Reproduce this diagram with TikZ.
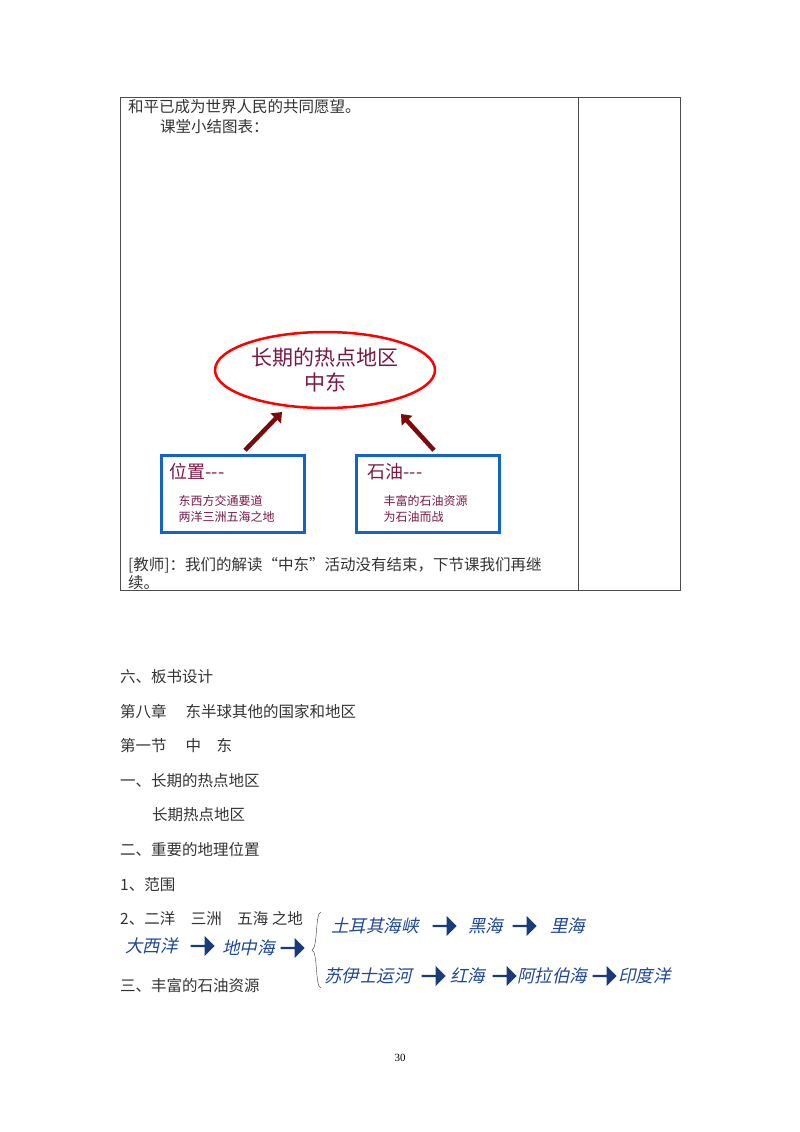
\documentclass[tikz,border=0pt]{standalone}
\usepackage{fontspec}
\setmainfont{Liberation Serif}
\newfontfamily\cjk{Noto Sans CJK SC}
\newfontfamily\cjkit{Noto Sans CJK SC}[FakeSlant=0.22]
\usetikzlibrary{shapes.geometric,shapes.arrows,arrows.meta}
\definecolor{wine}{RGB}{120,25,70}
\definecolor{darkred}{RGB}{125,10,10}
\definecolor{boxblue}{RGB}{20,100,200}
\definecolor{seablue}{RGB}{30,70,150}
\definecolor{navy}{RGB}{25,60,120}
\begin{document}
\begin{tikzpicture}[x=1pt,y=-1pt,
  body/.style={anchor=west, inner sep=0pt, font=\cjk\fontsize{15.5}{18}\selectfont, text=black!80},
  topic/.style={ellipse, draw=red, line width=2.5pt, minimum width=220pt, minimum height=76pt, align=center, text=wine, font=\cjk\fontsize{21}{25}\selectfont},
  card/.style={rectangle, draw=boxblue, line width=2.5pt, minimum width=143pt, minimum height=77pt},
  push/.style={-{Triangle[length=9pt,width=14pt]}, line width=4.5pt, darkred},
  sea/.style={anchor=west, inner sep=0pt, text=seablue, font=\cjkit\fontsize{17.5}{20}\selectfont},
  flow/.style={single arrow, fill=navy, minimum height=24pt, minimum width=20pt, single arrow head extend=1.5pt, inner sep=0pt}
]
  \useasboundingbox (0,0) rectangle (800,1132);
  % table
  \draw[black!70] (120,97) rectangle (680,590);
  \draw[black!70] (578,97) -- (578,590);
  \node[body] (t1) at (128,107) {和平已成为世界人民的共同愿望。};
  \node[body] (t2) at (160,127) {课堂小结图表：};

  % summary chart
  \node[topic] (hot) at (325,370) {长期的热点地区\\中东};
  \node[card] (pos) at (233,494) {};
  \node[card] (oil) at (428,494) {};
  \node[anchor=west, text=wine, font=\cjk\fontsize{18}{20}\selectfont] at (166,472) {位置---};
  \node[anchor=west, align=left, text=wine, font=\cjk\fontsize{12}{16}\selectfont] at (175,509) {东西方交通要道\\两洋三洲五海之地};
  \node[anchor=west, text=wine, font=\cjk\fontsize{18}{20}\selectfont] at (364,472) {石油---};
  \node[anchor=west, align=left, text=wine, font=\cjk\fontsize{12}{16}\selectfont] at (380,509) {丰富的石油资源\\为石油而战};
  \draw[push] (pos.north) ++(12,-4) coordinate (p1) -- (282,412);
  \draw[push] (oil.north) ++(6,-4) coordinate (p2) -- (401,414);

  \node[body] (t3) at (128,565) {[教师]：我们的解读“中东”活动没有结束，下节课我们再继};
  \node[body] (t4) at (128,583) {续。};

  % board design
  \node[body] (s6) at (120,677) {六、板书设计};
  \node[body] (ch) at (120,712) {第八章\quad\ 东半球其他的国家和地区};
  \node[body] (se) at (120,746) {第一节\quad\ 中\quad 东};
  \node[body] (l1) at (120,781) {一、长期的热点地区};
  \node[body] (l2) at (152,815) {长期热点地区};
  \node[body] (l3) at (120,850) {二、重要的地理位置};
  \node[body] (l4) at (120,885) {1、范围};
  \node[body] (l5) at (120,919) {2、二洋\quad 三洲\quad 五海\ 之地};
  \node[body] (l6) at (120,986) {三、丰富的石油资源};

  % route
  \node[sea] (atl) at (125,946) {大西洋};
  \node[flow] (a1) at (202,946) {};
  \node[sea] (med) at (222,948) {地中海};
  \node[flow] (a2) at (292,948) {};
  \draw[black!80] (321,912) .. controls (315,912) and (318,948) .. (312,950) .. controls (318,952) and (315,988) .. (321,988);
  \node[sea] (tur) at (331,926) {土耳其海峡};
  \node[flow] (a3) at (444,926) {};
  \node[sea] (blk) at (468,926) {黑海};
  \node[flow] (a4) at (524,926) {};
  \node[sea] (csp) at (550,926) {里海};
  \node[sea] (suz) at (324,976) {苏伊士运河};
  \node[flow] (a5) at (433,976) {};
  \node[sea] (red) at (450,976) {红海};
  \node[flow] (a6) at (504,976) {};
  \node[sea] (ara) at (517,976) {阿拉伯海};
  \node[flow] (a7) at (604,976) {};
  \node[sea] (ind) at (618,976) {印度洋};

  \node[font=\fontsize{11}{13}\selectfont] (pg) at (400,1058) {30};
\end{tikzpicture}
\end{document}
